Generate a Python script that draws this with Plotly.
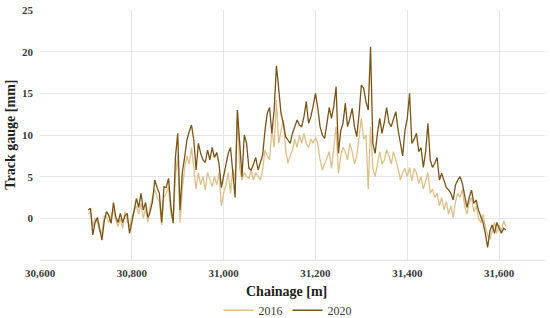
import plotly.graph_objects as go

# chainage in metres, 5 m steps
chainage = list(range(30705, 31620, 5))

gauge_2020 = [
    1.0, 1.2, -2.0, -0.5, 0.1, -1.1, -2.6, -0.3, 0.8, 0.3,
    -0.6, 1.9, 0.2, -0.5, 0.6, -0.5, 0.3, 0.6, -1.8, -0.5,
    1.2, 2.4, 1.3, 3.0, 1.0, 1.9, 0.1, 0.8, 2.0, 4.6,
    3.7, 3.0, -0.5, 3.8, 3.7, 4.8, 1.5, -0.6, 7.3, 10.2,
    1.0, 5.5, 7.3, 9.4, 10.4, 11.2, 9.4, 5.8, 9.0, 7.8,
    7.0, 6.7, 8.2, 7.0, 8.5, 7.3, 7.9, 6.5, 3.7, 5.0,
    6.4, 7.8, 8.5, 5.0, 2.5, 13.0, 9.0, 5.0, 10.0, 9.0,
    6.0, 5.8, 6.5, 7.3, 5.8, 6.6, 7.6, 10.5, 12.6, 13.3,
    10.2, 13.0, 18.3, 15.5, 12.6, 11.4, 9.8, 9.4, 9.0, 10.2,
    11.0, 11.8, 11.2, 11.0, 12.2, 14.0, 11.4, 12.2, 13.5, 15.0,
    13.3, 11.0, 10.0, 9.6, 11.4, 13.3, 12.0, 13.5, 15.8, 7.8,
    10.5, 11.4, 13.8, 11.0, 12.0, 13.2, 11.0, 9.8, 12.5, 16.0,
    15.6, 14.0, 13.0, 20.6, 9.0, 7.8, 10.2, 12.0, 10.2, 11.5,
    13.3, 11.5, 11.0, 12.0, 12.8, 10.6, 9.0, 7.5, 10.6, 12.0,
    15.0, 9.0, 9.5, 10.2, 8.0, 8.5, 6.1, 8.0, 11.4, 7.0,
    6.1, 6.6, 7.3, 4.6, 5.4, 4.5, 3.7, 3.4, 3.0, 2.2,
    4.0, 4.6, 5.0, 4.2, 2.5, 1.3, 2.5, 3.4, 1.8, 2.2,
    1.0, 0.1, -0.5, -1.8, -3.5, -1.5, -0.8, -1.8, -0.5, -1.2,
    -1.8, -1.2, -1.4,
]

gauge_2016 = [
    0.5, 0.8, -1.0, 0.0, -0.5, -1.5, -1.8, 0.3, 0.2, -0.5,
    0.5, 1.0, -0.2, -1.0, 0.0, -1.2, 0.8, -0.3, -1.0, 0.2,
    0.8, 1.5, 0.5, 1.8, 0.0, 1.2, -0.5, 1.5, 2.5, 3.5,
    2.5, 2.0, -0.8, 2.5, 3.0, 3.8, 0.5, -0.3, 5.0, 7.5,
    -0.5, 3.5, 6.0, 7.5, 6.5, 8.5, 6.0, 3.5, 5.5, 4.0,
    5.0, 3.4, 5.5, 4.5, 3.8, 5.0, 4.0, 5.5, 1.5, 3.0,
    4.0, 5.5, 3.0, 6.0, 4.5, 13.0, 6.0, 4.6, 5.5, 5.0,
    4.8, 5.8, 4.6, 5.5, 5.0, 4.6, 5.8, 8.2, 7.5, 7.0,
    10.6, 8.5, 14.2, 9.0, 10.5, 11.8, 8.2, 6.6, 7.5, 8.2,
    9.5, 8.5, 10.0, 9.0, 10.2, 9.0, 8.5, 9.5, 9.0, 9.7,
    9.0, 7.0, 5.8, 6.5, 7.3, 8.0, 6.0, 8.5, 11.0, 5.4,
    7.5, 8.5, 8.0, 7.0, 9.0, 8.0, 6.5, 7.5, 9.5, 12.0,
    9.5, 10.0, 3.5, 11.0, 6.0, 5.0, 6.5, 8.0, 6.5, 7.0,
    8.2, 7.5, 6.5, 8.0, 7.0, 6.0, 4.6, 5.5, 6.0, 5.0,
    6.1, 4.5, 6.0, 5.5, 4.2, 5.0, 3.5, 4.5, 5.5, 3.0,
    3.5, 2.5, 3.0, 1.5, 2.5, 1.0, 2.0, 0.5, 1.5, 0.1,
    2.0, 3.0, 2.5, 3.5, 1.5, 0.5, 1.8, 2.5, 0.8, 1.5,
    0.0, -0.5, 0.5, -1.0, -2.0, -2.5, -1.5, -0.5, -1.8, -0.8,
    -1.5, -0.3, -1.0,
]

y_ticks = [0, 5, 10, 15, 20, 25]

serif = "Liberation Serif, DejaVu Serif, serif"
tick_font = dict(family=serif, size=11, color="#3a3a3a", weight="bold")

fig = go.Figure()
fig.add_trace(go.Scatter(x=chainage, y=gauge_2016, name="2016", mode="lines",
                         line=dict(color="#dcc08a", width=1.3)))
fig.add_trace(go.Scatter(x=chainage, y=gauge_2020, name="2020", mode="lines",
                         line=dict(color="#785418", width=1.3)))

fig.update_xaxes(
    range=[30600, 31700], tick0=30600, dtick=200, tickformat=",",
    showgrid=True, gridcolor="#e6e6e6", gridwidth=1, zeroline=False,
    showline=True, linecolor="#e0e0e0", ticks="", ticklabelstandoff=3,
    tickfont=tick_font, automargin=False,
)
fig.update_yaxes(
    range=[-5, 25], tickvals=y_ticks, showgrid=True, gridcolor="#e6e6e6",
    gridwidth=1, zeroline=False, ticks="", ticklabelstandoff=6,
    tickfont=tick_font, automargin=False,
)
fig.update_layout(
    width=550, height=318,
    margin=dict(l=40, r=5, t=10, b=58, autoexpand=False),
    plot_bgcolor="white", paper_bgcolor="white",
    showlegend=True,
    legend=dict(orientation="h", x=0.49, xanchor="center",
                yref="container", y=0.07, yanchor="top",
                font=dict(family=serif, size=12, color="#404040"),
                itemwidth=30, tracegroupgap=0),
    annotations=[
        dict(text="<b>Chainage [m]</b>", xref="paper", yref="paper",
             x=0.489, y=-0.125, xanchor="center", yanchor="middle",
             showarrow=False, font=dict(family=serif, size=14, color="#222222")),
        dict(text="<b>Track gauge [mm]</b>", xref="paper", yref="paper",
             x=-0.06, y=0.5, xanchor="center", yanchor="middle", textangle=-90,
             showarrow=False, font=dict(family=serif, size=14, color="#222222")),
    ],
)

# drop the browser's default page margin so the figure sits at the top-left
fig.write_html("out.html", config={"displayModeBar": False},
               post_script="document.body.style.margin='0';")
